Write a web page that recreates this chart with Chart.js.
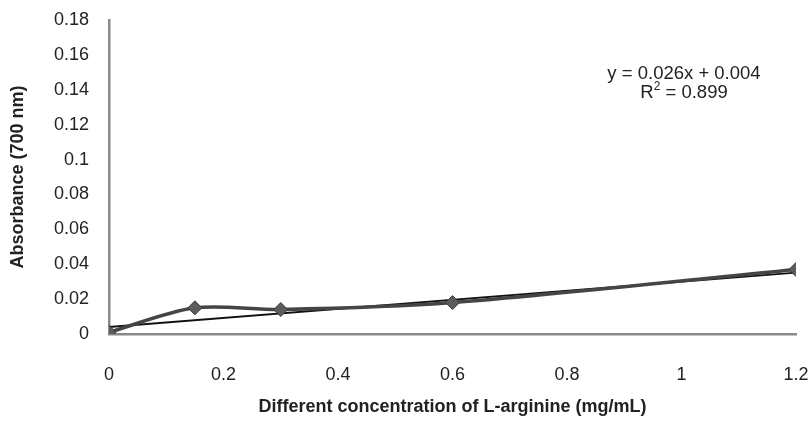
<!DOCTYPE html>
<html>
<head>
<meta charset="utf-8">
<script src="https://cdn.jsdelivr.net/npm/chart.js@4.4.1/dist/chart.umd.min.js"></script>
<style>
  html, body { margin: 0; padding: 0; background: #fff; }
  #wrap { width: 809px; height: 427px; }
</style>
</head>
<body>
<div id="wrap"><canvas id="absChart" width="809" height="427"></canvas></div>
<script>
// 数据
const concentration = [0, 0.15, 0.3, 0.6, 1.2];
const absorbance = [0.001, 0.015, 0.014, 0.018, 0.037];
const xTickLabels = ['0', '0.2', '0.4', '0.6', '0.8', '1', '1.2'];
const yTickLabels = ['0', '0.02', '0.04', '0.06', '0.08', '0.1', '0.12', '0.14', '0.16', '0.18'];
const trendSlope = 0.026;
const trendIntercept = 0.004;
const trendRange = [0, 1.2];
const equationText = 'y = 0.026x + 0.004';
const r2Text = ' = 0.899';

const fontFamily = '"Liberation Sans", Arial, sans-serif';

// 趋势线方程文字
const equationPlugin = {
    id: 'equation',
    afterDraw(chart) {
        const c = chart.ctx;
        c.save();
        c.fillStyle = '#222';
        c.font = '18.5px ' + fontFamily;
        c.textAlign = 'center';
        c.textBaseline = 'middle';
        c.fillText(equationText, 684, 74);
        // R² 上标
        const wBase = c.measureText('R').width;
        c.font = '12px ' + fontFamily;
        const wSup = c.measureText('2').width;
        c.font = '18.5px ' + fontFamily;
        const wRest = c.measureText(r2Text).width;
        let x = 684 - (wBase + wSup + wRest) / 2;
        c.textAlign = 'left';
        c.fillText('R', x, 93);
        x += wBase;
        c.font = '12px ' + fontFamily;
        c.fillText('2', x, 87);
        x += wSup;
        c.font = '18.5px ' + fontFamily;
        c.fillText(r2Text, x, 93);
        c.restore();
    }
};

const ctx = document.getElementById('absChart').getContext('2d');
const absChart = new Chart(ctx, {
    type: 'scatter',
    data: {
        datasets: [{
            label: 'Absorbance',
            data: concentration.map((x, i) => ({ x: x, y: absorbance[i] })),
            showLine: true,
            tension: 0.3,
            borderColor: '#454545',
            borderWidth: 3.5,
            pointStyle: 'rectRot',
            pointRadius: 7,
            pointBackgroundColor: '#5c5c5c',
            pointBorderColor: '#3a3a3a',
            pointBorderWidth: 1
        }, {
            label: 'Linear',
            data: trendRange.map(x => ({ x: x, y: trendSlope * x + trendIntercept })),
            showLine: true,
            borderColor: '#111',
            borderWidth: 1.8,
            pointRadius: 0
        }]
    },
    options: {
        responsive: false,
        animation: false,
        layout: { padding: { top: 20, right: 13, left: 0, bottom: 0 } },
        plugins: {
            legend: { display: false },
            tooltip: { enabled: false }
        },
        scales: {
            x: {
                type: 'linear',
                min: 0,
                max: 1.2,
                grid: { display: false, drawTicks: false },
                border: { color: '#8a8a8a', width: 2.5 },
                ticks: {
                    stepSize: 0.2,
                    padding: 30,
                    color: '#222',
                    font: { size: 18, family: fontFamily },
                    callback: (v, i) => xTickLabels[i]
                },
                title: {
                    display: true,
                    text: 'Different concentration of L-arginine (mg/mL)',
                    color: '#222',
                    font: { size: 18, weight: 'bold', family: fontFamily },
                    padding: { top: 4, bottom: 9 }
                },
                afterFit(scale) {
                    scale.height = 93;
                    scale.paddingLeft = 0;
                    scale.paddingRight = 0;
                }
            },
            y: {
                min: 0,
                max: 0.18,
                grid: { display: false, drawTicks: false },
                border: { color: '#8a8a8a', width: 2.5 },
                ticks: {
                    stepSize: 0.02,
                    padding: 20,
                    color: '#222',
                    font: { size: 18, family: fontFamily },
                    callback: (v, i) => yTickLabels[i]
                },
                title: {
                    display: true,
                    text: 'Absorbance (700 nm)',
                    color: '#222',
                    font: { size: 18, weight: 'bold', family: fontFamily },
                    padding: { top: 7, bottom: 7 }
                },
                afterFit(scale) {
                    scale.width = 109;
                    scale.paddingTop = 0;
                    scale.paddingBottom = 0;
                }
            }
        }
    },
    plugins: [equationPlugin]
});
</script>
</body>
</html>
